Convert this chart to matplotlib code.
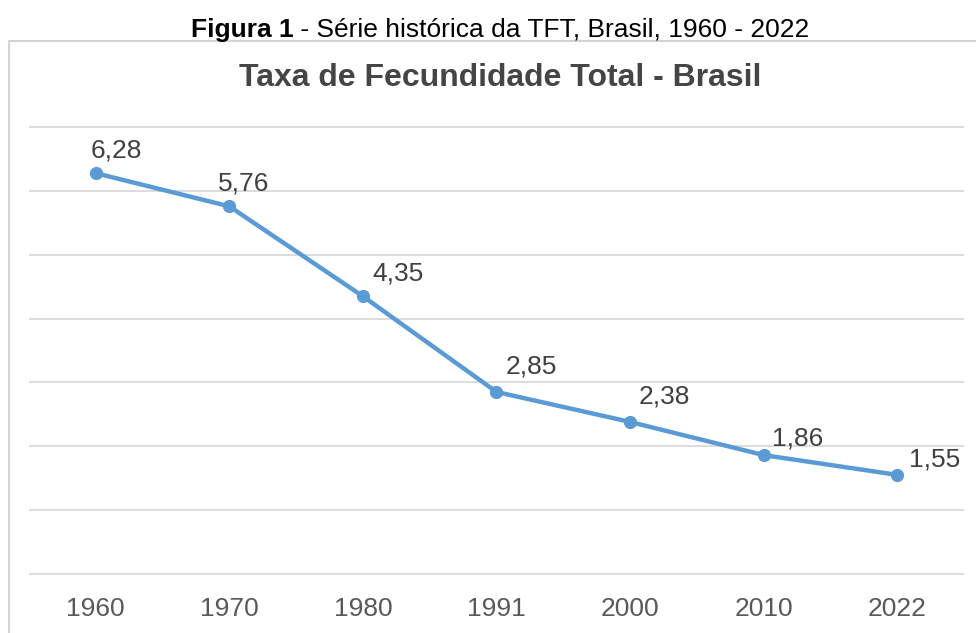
import matplotlib.pyplot as plt
from matplotlib.patches import Rectangle

# data
years = ['1960', '1970', '1980', '1991', '2000', '2010', '2022']
tft = [6.28, 5.76, 4.35, 2.85, 2.38, 1.86, 1.55]
labels = ['6,28', '5,76', '4,35', '2,85', '2,38', '1,86', '1,55']
# label offsets (points) from each marker
label_dx = [-3.5, -8.5, 7, 6.5, 6.5, 6, 8.5]
label_dy = [16.5, 16.5, 16.5, 18.5, 18, 12, 11]

plt.rcParams['font.family'] = ['Liberation Sans', 'DejaVu Sans']

fig = plt.figure(figsize=(9.76, 6.33), dpi=100)
W, H = 976, 633
xc = 500 / W  # the caption and title sit centred on the frame

# frame around the chart area
fig.patches.append(Rectangle((9 / W, -0.05), 1.2, 1 - 41 / H + 0.05,
                             transform=fig.transFigure, fill=False,
                             ec='#d4d4d4', lw=1.5))

# caption: bold "Figura 1" followed by regular text, centred as a whole
r = fig.canvas.get_renderer()
cy = 1 - 30 / H
t1 = fig.text(0, cy, 'Figura 1', fontsize=19, fontweight='bold', va='center')
t2 = fig.text(0, cy, ' - Série histórica da TFT, Brasil, 1960 - 2022',
              fontsize=19, va='center')
w1 = t1.get_window_extent(r).width / W
w2 = t2.get_window_extent(r).width / W
x0 = xc - (w1 + w2) / 2
t1.set_x(x0)
t2.set_x(x0 + w1)

fig.text(xc, 1 - 78 / H, 'Taxa de Fecundidade Total - Brasil',
         ha='center', va='center', fontsize=23, fontweight='bold', color='#454545')

ax = fig.add_axes([29 / W, 1 - 575 / H, (964 - 29) / W, (575 - 126) / H])
x = list(range(len(years)))
ax.plot(x, tft, color='#5b9bd5', lw=3.2, marker='o', ms=8.5, zorder=3)

for i, v in enumerate(tft):
    ax.annotate(labels[i], (x[i], v), xytext=(label_dx[i], label_dy[i]),
                textcoords='offset points', ha='left', va='center',
                fontsize=19, color='#404040')

ax.set_xlim(-0.5, len(years) - 0.5)
ax.set_ylim(-0.02, 7.02)
ax.set_yticks(range(0, 8))
ax.set_yticklabels([])
ax.set_xticks(x)
ax.set_xticklabels(years, fontsize=19, color='#595959')
ax.tick_params(axis='both', length=0)
ax.tick_params(axis='x', pad=16)
ax.grid(axis='y', color='#d9d9d9', lw=1.3)
ax.set_axisbelow(True)
for s in ax.spines.values():
    s.set_visible(False)

fig.savefig('out.png', dpi=100)
